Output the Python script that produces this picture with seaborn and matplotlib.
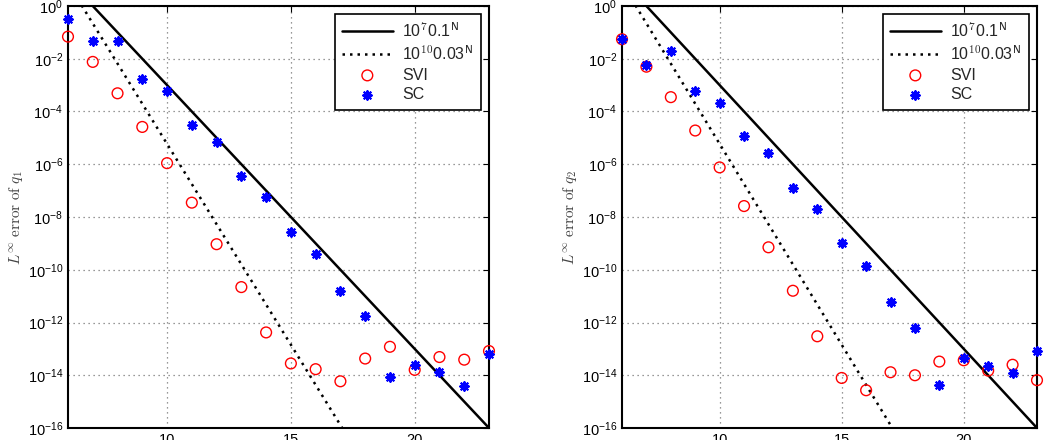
import numpy as np
import matplotlib
matplotlib.use("Agg")
import matplotlib.pyplot as plt
import seaborn as sns

# polynomial degree N
N = list(range(6, 24))

# L-infinity error of q1
svi_q1 = [6.9e-2, 7.6e-3, 4.9e-4, 2.6e-5, 1.1e-6, 3.5e-8, 9.3e-10, 2.2e-11, 4.2e-13,
          2.8e-14, 1.7e-14, 5.9e-15, 4.3e-14, 1.2e-13, 1.6e-14, 4.9e-14, 3.9e-14, 8.3e-14]
sc_q1 = [3.2e-1, 4.7e-2, 4.7e-2, 1.7e-3, 5.8e-4, 3.2e-5, 6.8e-6, 3.6e-7, 5.6e-8,
         2.8e-9, 3.8e-10, 1.6e-11, 1.8e-12, 8.3e-15, 2.4e-14, 1.3e-14, 3.8e-15, 6.6e-14]

# L-infinity error of q2
svi_q2 = [5.5e-2, 5.0e-3, 3.5e-4, 1.9e-5, 7.6e-7, 2.6e-8, 7.1e-10, 1.6e-11, 3.0e-13,
          7.9e-15, 2.7e-15, 1.3e-14, 1.0e-14, 3.3e-14, 3.7e-14, 1.5e-14, 2.5e-14, 6.5e-15]
sc_q2 = [5.5e-2, 5.8e-3, 1.9e-2, 5.9e-4, 2.1e-4, 1.2e-5, 2.6e-6, 1.3e-7, 2.1e-8,
         1.0e-9, 1.4e-10, 6.2e-12, 6.2e-13, 4.2e-15, 4.6e-14, 2.3e-14, 1.2e-14, 8.3e-14]

# reference rates
rate1_c, rate1_b = 1e7, 0.1
rate2_c, rate2_b = 1e10, 0.03

sns.set_style("white")
plt.rcParams['font.family'] = ['Liberation Sans', 'DejaVu Sans']
plt.rcParams['mathtext.fontset'] = 'cm'

fig = plt.figure(figsize=(10.5, 4.4), dpi=100)
ax1 = fig.add_axes([68/1050, 12/440, 421/1050, 422/440])
ax2 = fig.add_axes([622/1050, 12/440, 415/1050, 422/440])

Nd = np.array(N, dtype=float)
panels = [(ax1, svi_q1, sc_q1, r"$L^\infty\ \mathrm{error\ of}\ q_1$"),
          (ax2, svi_q2, sc_q2, r"$L^\infty\ \mathrm{error\ of}\ q_2$")]

for ax, svi, sc, ylab in panels:
    sns.lineplot(x=Nd, y=rate1_c*rate1_b**Nd, ax=ax, color='black', lw=1.8,
                 label=r"10$^{\mathsf{7}}$0.1$^{\mathsf{N}}$")
    sns.lineplot(x=Nd, y=rate2_c*rate2_b**Nd, ax=ax, color='black', lw=1.8,
                 linestyle=(0, (1, 2)), label=r"10$^{\mathsf{10}}$0.03$^{\mathsf{N}}$")
    sns.scatterplot(x=N, y=svi, ax=ax, marker='o', s=60, facecolors='none',
                    edgecolors='red', linewidths=1.0, label='SVI', zorder=5,
                    clip_on=False)
    sns.scatterplot(x=N, y=sc, ax=ax, marker=(8, 2, 0), s=38, color='blue',
                    edgecolors='blue', linewidths=1.5, label='SC', zorder=6,
                    clip_on=False)

    ax.set_yscale('log')
    ax.set_xlim(6, 23)
    ax.set_ylim(1e-16, 1e0)
    ax.set_xticks([10, 15, 20])
    ax.set_yticks([10.0**k for k in range(-16, 1, 2)])
    ax.yaxis.set_minor_locator(matplotlib.ticker.NullLocator())
    ax.grid(True, which='major', linestyle=(0, (1, 3)), color='#777777', lw=0.9)
    ax.tick_params(direction='in', top=True, right=True, labelsize=10.5,
                   length=4, width=0.8, colors='black')
    for sp in ax.spines.values():
        sp.set_color('black')
        sp.set_linewidth(1.5)
    ax.set_ylabel(ylab, fontsize=11, color='#444444', labelpad=2)
    ax.set_xlabel('')
    leg = ax.legend(loc='upper right', fontsize=11.5, handlelength=3.2,
                    fancybox=False, frameon=True, borderaxespad=0.5,
                    labelspacing=0.3, borderpad=0.45, handletextpad=0.6,
                    framealpha=1)
    leg.get_frame().set_edgecolor('black')
    leg.get_frame().set_linewidth(1.2)

fig.savefig('out.png', dpi=100)
